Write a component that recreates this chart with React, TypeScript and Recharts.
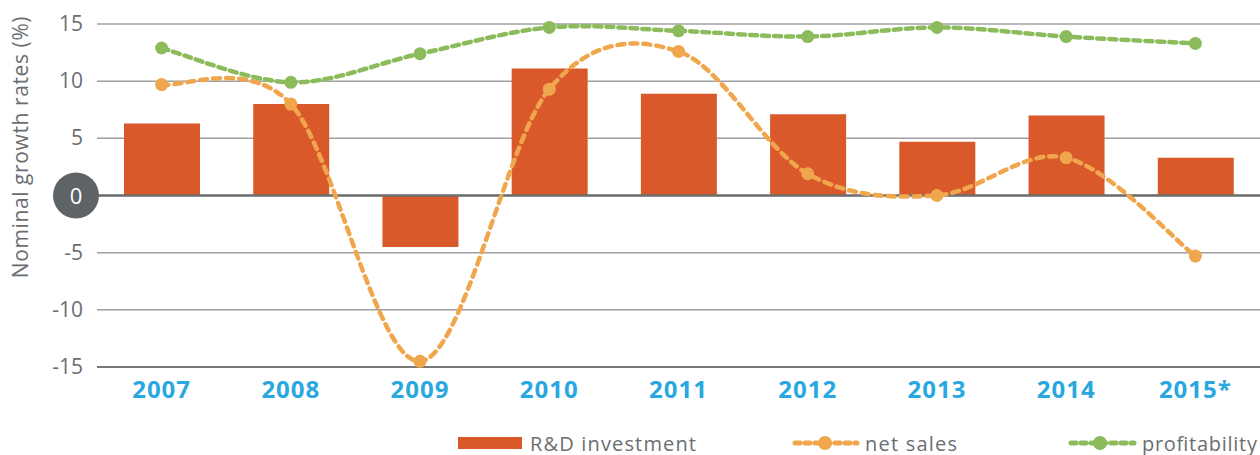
import React from "react";
import { ComposedChart, Bar, Line, XAxis, YAxis, CartesianGrid, ReferenceLine, Legend } from "recharts";

const YEARS = ["2007", "2008", "2009", "2010", "2011", "2012", "2013", "2014", "2015*"];
const RD_INVESTMENT = [6.3, 8.0, -4.5, 11.1, 8.9, 7.1, 4.7, 7.0, 3.3];
const NET_SALES = [9.7, 8.0, -14.5, 9.3, 12.6, 1.9, 0.0, 3.3, -5.3];
const PROFITABILITY = [12.9, 9.9, 12.4, 14.7, 14.4, 13.9, 14.7, 13.9, 13.3];
const Y_TICKS = [-15, -10, -5, 0, 5, 10, 15];

const data = YEARS.map((year, i) => ({
  year,
  rd: RD_INVESTMENT[i],
  sales: NET_SALES[i],
  profit: PROFITABILITY[i],
}));

if (typeof document !== "undefined") document.body.style.margin = "0";

const FONT = "'Open Sans', sans-serif";
const GREY = "#6b6e70";
const ORANGE = "#d9592b";
const SALES = "#f0a64c";
const GREEN = "#8cbb5c";

// excel-like smooth line (catmull-rom through the points)
function smoothCurve(context: any) {
  let pts: number[][] = [];
  return {
    areaStart() {},
    areaEnd() {},
    lineStart() {
      pts = [];
    },
    point(x: number, y: number) {
      pts.push([+x, +y]);
    },
    lineEnd() {
      if (!pts.length) return;
      context.moveTo(pts[0][0], pts[0][1]);
      for (let i = 0; i < pts.length - 1; i++) {
        const p0 = pts[i - 1] || pts[i];
        const p1 = pts[i];
        const p2 = pts[i + 1];
        const p3 = pts[i + 2] || p2;
        context.bezierCurveTo(
          p1[0] + (p2[0] - p0[0]) / 6,
          p1[1] + (p2[1] - p0[1]) / 6,
          p2[0] - (p3[0] - p1[0]) / 6,
          p2[1] - (p3[1] - p1[1]) / 6,
          p2[0],
          p2[1]
        );
      }
    },
  };
}

function YTick({ y, payload }: any) {
  if (payload.value === 0) {
    return (
      <g>
        <circle cx={76} cy={y} r={23} fill="#5e6366" />
        <text x={76} y={y + 8} textAnchor="middle" fill="#fff" fontSize={22} fontFamily={FONT}>
          0
        </text>
      </g>
    );
  }
  return (
    <text x={83} y={y + 7} textAnchor="end" fill={GREY} fontSize={21} fontFamily={FONT}>
      {payload.value}
    </text>
  );
}

function XTick({ x, payload }: any) {
  return (
    <text x={x} y={398} textAnchor="middle" fill="#29a7df" fontSize={24} fontWeight={700} letterSpacing={1} fontFamily={FONT}>
      {payload.value}
    </text>
  );
}

function LegendContent() {
  const text = { fill: GREY, fontSize: 20, fontFamily: FONT, lengthAdjust: "spacing" };
  return (
    <svg width={1260} height={43} style={{ display: "block", overflow: "visible" }}>
      <rect x={458} y={25} width={64} height={12} fill={ORANGE} />
      <line x1={795} x2={857} y1={31} y2={31} stroke={SALES} strokeWidth={5} strokeDasharray="5 5" strokeLinecap="round" />
      <circle cx={825} cy={31} r={7} fill={SALES} />
      <line x1={1071} x2={1134} y1={31} y2={31} stroke={GREEN} strokeWidth={5} strokeDasharray="5 5" strokeLinecap="round" />
      <circle cx={1100} cy={31} r={7} fill={GREEN} />
      <text x={530} y={39} textLength={166} {...text}>R&amp;D investment</text>
      <text x={865} y={39} textLength={92} {...text}>net sales</text>
      <text x={1142} y={39} textLength={115} {...text}>profitability</text>
    </svg>
  );
}

export default function App() {
  return (
    <div style={{ width: 1260, height: 455, background: "#fff" }}>
      <ComposedChart width={1260} height={455} data={data} margin={{ top: 24, right: 0, left: 0, bottom: 0 }}>
        <CartesianGrid vertical={false} stroke="#a0a0a0" strokeWidth={1.5} />
        <XAxis dataKey="year" height={45} tick={<XTick />} tickLine={false} axisLine={{ stroke: "#777", strokeWidth: 2 }} />
        <YAxis
          width={97}
          domain={[-15, 15]}
          ticks={Y_TICKS}
          tick={<YTick />}
          tickLine={false}
          axisLine={false}
          label={{
            content: () => (
              <text
                x={0}
                y={0}
                transform="translate(28,147) rotate(-90)"
                textAnchor="middle"
                fill={GREY}
                fontSize={21}
                letterSpacing={0.6}
                fontFamily={FONT}
              >
                Nominal growth rates (%)
              </text>
            ),
          }}
        />
        <ReferenceLine y={0} stroke="#6e6e6e" strokeWidth={2.5} />
        <Bar dataKey="rd" name="R&D investment" fill={ORANGE} barSize={76} isAnimationActive={false} />
        <Line
          dataKey="sales"
          name="net sales"
          type={smoothCurve as any}
          stroke={SALES}
          strokeWidth={4.5}
          strokeDasharray="7 6"
          strokeLinecap="round"
          dot={{ r: 6.5, fill: SALES, stroke: "none" }}
          activeDot={false}
          isAnimationActive={false}
        />
        <Line
          dataKey="profit"
          name="profitability"
          type={smoothCurve as any}
          stroke={GREEN}
          strokeWidth={4.5}
          strokeDasharray="7 5"
          strokeLinecap="round"
          dot={{ r: 6.5, fill: GREEN, stroke: "none" }}
          activeDot={false}
          isAnimationActive={false}
        />
        <Legend
          verticalAlign="bottom"
          height={43}
          content={<LegendContent />}
          wrapperStyle={{ left: 0, bottom: 0, width: 1260, height: 43, overflow: "visible" }}
        />
      </ComposedChart>
    </div>
  );
}
